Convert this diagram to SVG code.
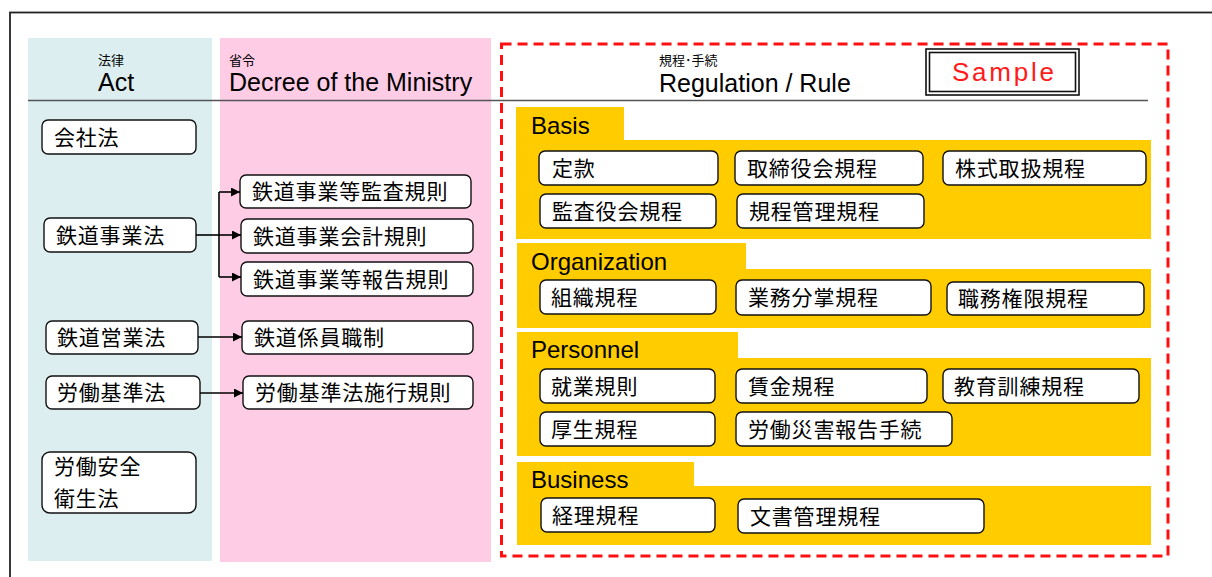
<svg xmlns="http://www.w3.org/2000/svg" width="1212" height="577" viewBox="0 0 1212 577">
<defs>
<style>
.node{fill:#fff;stroke:#111;stroke-width:1.4}
.jp{font-family:"Noto Sans CJK JP","Noto Sans CJK SC",sans-serif;font-size:21px;letter-spacing:0.8px;fill:#000}
.small{font-family:"Noto Sans CJK JP","Noto Sans CJK SC",sans-serif;font-size:13px;fill:#000}
.en{font-family:"Liberation Sans",Arial,sans-serif;font-size:25px;fill:#000}
.sec{font-family:"Liberation Sans",Arial,sans-serif;font-size:24px;fill:#000}
.yel{fill:#FFCC00}
.conn{fill:none;stroke:#000;stroke-width:1.6}
</style>
<marker id="arr" viewBox="0 0 10 10" refX="10" refY="5" markerWidth="9" markerHeight="9" markerUnits="userSpaceOnUse" orient="auto">
<path d="M0,0 L10,5 L0,10 z" fill="#000"/>
</marker>
</defs>
<rect x="0" y="0" width="1212" height="577" fill="#fff"/>
<rect x="10" y="12.5" width="1230" height="600" fill="none" stroke="#222" stroke-width="1.8"/>

<!-- columns -->
<g id="col-act">
<rect x="28" y="38" width="184" height="523" fill="#DCEEF0"/>
<text class="small" x="98" y="65">法律</text>
<text class="en" x="98" y="91">Act</text>
</g>
<g id="col-decree">
<rect x="220" y="38" width="271" height="524" fill="#FFCCE6"/>
<text class="small" x="229" y="65">省令</text>
<text class="en" x="229" y="91">Decree of the Ministry</text>
</g>
<g id="col-rule">
<rect x="501.5" y="44" width="666.5" height="512" fill="none" stroke="#FF1010" stroke-width="3" stroke-dasharray="10 6"/>
<text class="small" x="659" y="65">規程･手続</text>
<text class="en" x="659" y="92">Regulation / Rule</text>
</g>
<path d="M28,100.5 H1148" stroke="#555" stroke-width="1.6"/>

<g id="sample">
<rect x="926" y="49" width="153" height="46" fill="#fff" stroke="#111" stroke-width="1.6"/>
<rect x="929.5" y="52.5" width="146" height="39" fill="none" stroke="#111" stroke-width="1.6"/>
<text x="1003" y="81" text-anchor="middle" textLength="102" font-family="'Liberation Sans',Arial,sans-serif" font-size="26" fill="#FF1A1A">Sample</text>
</g>

<!-- Act nodes -->
<g id="act-kaisha"><rect class="node" x="42" y="120" width="154" height="34" rx="6"/><text class="jp" x="54" y="144.5">会社法</text></g>
<g id="act-tetsudojigyo"><rect class="node" x="44" y="218" width="152" height="34" rx="6"/><text class="jp" x="56" y="242.5">鉄道事業法</text></g>
<g id="act-tetsudoeigyo"><rect class="node" x="46" y="321" width="152" height="33" rx="6"/><text class="jp" x="57" y="345">鉄道営業法</text></g>
<g id="act-rodokijun"><rect class="node" x="46" y="376" width="154" height="33" rx="6"/><text class="jp" x="57" y="400">労働基準法</text></g>
<g id="act-rodoanzen"><rect class="node" x="42" y="452" width="154" height="61" rx="8"/><text class="jp" x="54" y="474">労働安全</text><text class="jp" x="54" y="506">衛生法</text></g>

<!-- Decree nodes -->
<g id="dec-kansa"><rect class="node" x="240" y="175" width="231" height="33" rx="6"/><text class="jp" x="252" y="199">鉄道事業等監査規則</text></g>
<g id="dec-kaikei"><rect class="node" x="241" y="219" width="232" height="34" rx="6"/><text class="jp" x="253" y="243.5">鉄道事業会計規則</text></g>
<g id="dec-hokoku"><rect class="node" x="241" y="262" width="232" height="34" rx="6"/><text class="jp" x="253" y="286.5">鉄道事業等報告規則</text></g>
<g id="dec-shokusei"><rect class="node" x="242" y="321" width="231" height="33" rx="6"/><text class="jp" x="254" y="345">鉄道係員職制</text></g>
<g id="dec-sekokisoku"><rect class="node" x="243" y="376" width="230" height="33" rx="6"/><text class="jp" x="255" y="400">労働基準法施行規則</text></g>

<!-- connectors -->
<g id="connectors">
<path class="conn" d="M196,235 H219" stroke-width="2.2"/>
<path class="conn" d="M219,192 V277"/>
<path class="conn" d="M219,192 H240" marker-end="url(#arr)"/>
<path class="conn" d="M219,235 H241" marker-end="url(#arr)"/>
<path class="conn" d="M219,277 H241" marker-end="url(#arr)"/>
<path class="conn" d="M198,337 H242" marker-end="url(#arr)"/>
<path class="conn" d="M200,393 H243" marker-end="url(#arr)"/>
</g>

<!-- Basis -->
<g id="sec-basis">
<rect class="yel" x="516" y="107" width="108" height="34"/>
<rect class="yel" x="516" y="140" width="635" height="99"/>
<text class="sec" x="531" y="134">Basis</text>
</g>
<g id="r-teikan"><rect class="node" x="539" y="151" width="179" height="34" rx="6"/><text class="jp" x="552" y="175.5">定款</text></g>
<g id="r-torishimari"><rect class="node" x="735" y="151" width="188" height="34" rx="6"/><text class="jp" x="747" y="175.5">取締役会規程</text></g>
<g id="r-kabushiki"><rect class="node" x="943" y="151" width="203" height="34" rx="6"/><text class="jp" x="955" y="175.5">株式取扱規程</text></g>
<g id="r-kansayaku"><rect class="node" x="540" y="194" width="176" height="34" rx="6"/><text class="jp" x="552" y="218.5">監査役会規程</text></g>
<g id="r-kiteikanri"><rect class="node" x="737" y="194" width="187" height="34" rx="6"/><text class="jp" x="749" y="218.5">規程管理規程</text></g>

<!-- Organization -->
<g id="sec-organization">
<rect class="yel" x="517" y="243" width="229" height="27"/>
<rect class="yel" x="517" y="269" width="634" height="59"/>
<text class="sec" x="531" y="270">Organization</text>
</g>
<g id="r-soshiki"><rect class="node" x="540" y="280" width="176" height="34" rx="6"/><text class="jp" x="551" y="304.5">組織規程</text></g>
<g id="r-gyomubunsho"><rect class="node" x="736" y="280" width="195" height="35" rx="6"/><text class="jp" x="748" y="305">業務分掌規程</text></g>
<g id="r-shokumukengen"><rect class="node" x="947" y="282" width="197" height="33" rx="6"/><text class="jp" x="958" y="306">職務権限規程</text></g>

<!-- Personnel -->
<g id="sec-personnel">
<rect class="yel" x="517" y="332" width="221" height="27"/>
<rect class="yel" x="517" y="358" width="634" height="98"/>
<text class="sec" x="531" y="358">Personnel</text>
</g>
<g id="r-shugyo"><rect class="node" x="540" y="369" width="175" height="34" rx="6"/><text class="jp" x="551" y="393.5">就業規則</text></g>
<g id="r-chingin"><rect class="node" x="736" y="369" width="191" height="34" rx="6"/><text class="jp" x="748" y="393.5">賃金規程</text></g>
<g id="r-kyoiku"><rect class="node" x="943" y="369" width="196" height="34" rx="6"/><text class="jp" x="954" y="393.5">教育訓練規程</text></g>
<g id="r-kosei"><rect class="node" x="540" y="412" width="175" height="34" rx="6"/><text class="jp" x="551" y="436.5">厚生規程</text></g>
<g id="r-rodosaigai"><rect class="node" x="736" y="412" width="216" height="34" rx="6"/><text class="jp" x="748" y="436.5">労働災害報告手続</text></g>

<!-- Business -->
<g id="sec-business">
<rect class="yel" x="517" y="462" width="177" height="25"/>
<rect class="yel" x="517" y="486" width="634" height="59"/>
<text class="sec" x="531" y="488">Business</text>
</g>
<g id="r-keiri"><rect class="node" x="541" y="498" width="174" height="34" rx="6"/><text class="jp" x="552" y="522.5">経理規程</text></g>
<g id="r-bunsho"><rect class="node" x="738" y="499" width="246" height="34" rx="6"/><text class="jp" x="750" y="523.5">文書管理規程</text></g>
</svg>
